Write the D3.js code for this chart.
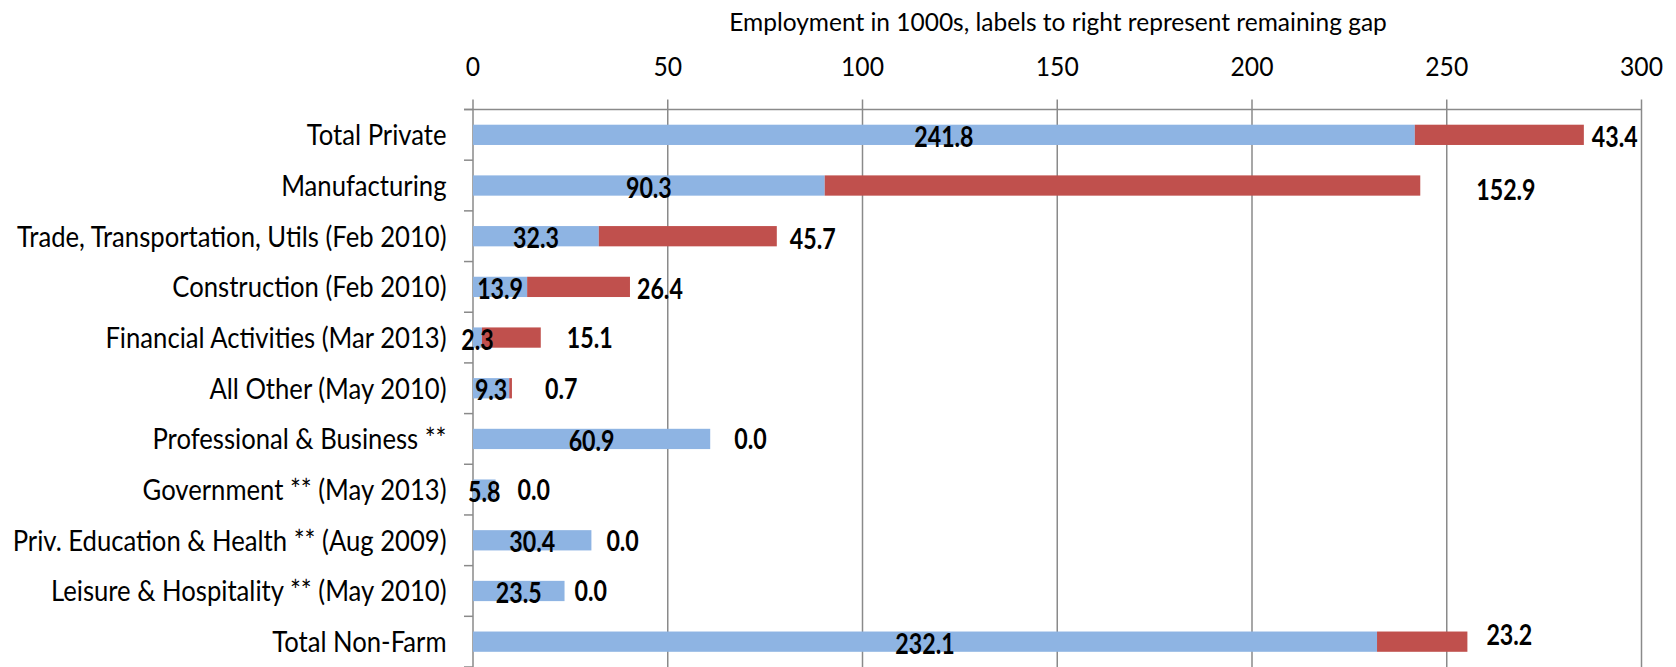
<!DOCTYPE html>
<html>
<head>
<meta charset="utf-8" />
<title>Employment recovery gap</title>
<script type="text/javascript" src="https://cdn.jsdelivr.net/npm/d3@7/dist/d3.min.js"></script>
<style>
html, body { margin: 0; padding: 0; background: #fff; }
svg { display: block; }
text { font-family: Lato, "Open Sans", sans-serif; fill: #000; }
</style>
</head>
<body>
<div id="chart"></div>
<script>
// categories top to bottom
var categories = [
	"Total Private",
	"Manufacturing",
	"Trade, Transportation, Utils (Feb 2010)",
	"Construction (Feb 2010)",
	"Financial Activities (Mar 2013)",
	"All Other (May 2010)",
	"Professional & Business **",
	"Government ** (May 2013)",
	"Priv. Education & Health ** (Aug 2009)",
	"Leisure & Hospitality ** (May 2010)",
	"Total Non-Farm"
];
// jobs recovered so far (blue) and remaining gap (red), in 1000s
var recovered = [241.8, 90.3, 32.3, 13.9, 2.3, 9.3, 60.9, 5.8, 30.4, 23.5, 232.1];
var gap       = [43.4, 152.9, 45.7, 26.4, 15.1, 0.7, 0.0, 0.0, 0.0, 0.0, 23.2];
var xTicks = [0, 50, 100, 150, 200, 250, 300];
var title = "Employment in 1000s, labels to right represent remaining gap";

// gap labels were dragged by hand in the original, these are the pixel nudges
var gapNudgeX = [8, 56, 13, 7, 26, 33, 24, 22, 15, 10, 19];
var gapNudgeY = [2, 4, 2, 2, 0, 0, 0, 0, 0, 0, -7];

const width = 1676, height = 667;
const plot = {left: 473, right: 1641.5, top: 109.5, bottom: 667};
const blue = "#8EB4E3", red = "#C0504D", grey = "#8a8a8a";
const SX_CAT = 0.9, SX_TICK = 0.95, SX_TITLE = 1.0, SX_LAB = 0.8;

const svg = d3.select("#chart").append("svg")
	.attr("width", width)
	.attr("height", height);

var x = d3.scaleLinear().domain([0, 300]).range([plot.left, plot.right]);
var y = d3.scaleBand().domain(categories)
	.range([plot.top, plot.bottom])
	.paddingInner(0.6)
	.paddingOuter(0.3);
var step = y.step();

var data = categories.map(function(c, i){
	return {cat: c, rec: recovered[i], gap: gap[i], i: i};
});

// gridlines (also the 0 axis)
svg.append("g").selectAll("line")
	.data(xTicks)
	.enter().append("line")
		.attr("x1", d => x(d)).attr("x2", d => x(d))
		.attr("y1", plot.top - 10).attr("y2", plot.bottom)
		.attr("stroke", grey).attr("stroke-width", 1.5);

// top axis line, extends over the first category tick
svg.append("line")
	.attr("x1", plot.left - 9).attr("x2", plot.right)
	.attr("y1", plot.top).attr("y2", plot.top)
	.attr("stroke", grey).attr("stroke-width", 1.5);

// category tick marks between bands
svg.append("g").selectAll("line")
	.data(d3.range(categories.length + 1))
	.enter().append("line")
		.attr("x1", plot.left - 9).attr("x2", plot.left)
		.attr("y1", i => plot.top + i * step).attr("y2", i => plot.top + i * step)
		.attr("stroke", grey).attr("stroke-width", 1.5);

// tick labels
svg.append("g").selectAll("text")
	.data(xTicks)
	.enter().append("text")
		.attr("transform", d => "translate(" + x(d) + ",76) scale(" + SX_TICK + ",1)")
		.attr("text-anchor", "middle")
		.style("font-size", "26px")
		.text(d => d);

// title
svg.append("text")
	.attr("transform", "translate(1058,31) scale(" + SX_TITLE + ",1)")
	.attr("text-anchor", "middle")
	.style("font-size", "24.5px")
	.text(title);

// category labels
svg.append("g").selectAll("text")
	.data(data)
	.enter().append("text")
		.attr("transform", d => "translate(446.5," + (y(d.cat) + y.bandwidth() / 2 + 10.5) + ") scale(" + SX_CAT + ",1)")
		.attr("text-anchor", "end")
		.style("font-size", "28.5px")
		.text(d => d.cat);

// bars
var bars = svg.append("g");
bars.selectAll("rect.rec")
	.data(data)
	.enter().append("rect")
		.attr("class", "rec")
		.attr("x", x(0))
		.attr("y", d => y(d.cat))
		.attr("width", d => x(d.rec) - x(0))
		.attr("height", y.bandwidth())
		.attr("fill", blue);
bars.selectAll("rect.gap")
	.data(data.filter(d => d.gap > 0))
	.enter().append("rect")
		.attr("class", "gap")
		.attr("x", d => x(d.rec))
		.attr("y", d => y(d.cat))
		.attr("width", d => x(d.rec + d.gap) - x(d.rec))
		.attr("height", y.bandwidth())
		.attr("fill", red);

// value labels
var labels = svg.append("g").style("font-weight", "bold").style("font-size", "29px");
labels.selectAll("text.rec")
	.data(data)
	.enter().append("text")
		.attr("class", "rec")
		.attr("transform", d => "translate(" + x(d.rec / 2) + "," + (y(d.cat) + y.bandwidth() / 2 + 12) + ") scale(" + SX_LAB + ",1)")
		.attr("text-anchor", "middle")
		.text(d => d.rec.toFixed(1));
labels.selectAll("text.gap")
	.data(data)
	.enter().append("text")
		.attr("class", "gap")
		.attr("transform", d => "translate(" + (x(d.rec + d.gap) + gapNudgeX[d.i]) + "," + (y(d.cat) + y.bandwidth() / 2 + 10.5 + gapNudgeY[d.i]) + ") scale(" + SX_LAB + ",1)")
		.attr("text-anchor", "start")
		.text(d => d.gap.toFixed(1));
</script>
</body>
</html>
